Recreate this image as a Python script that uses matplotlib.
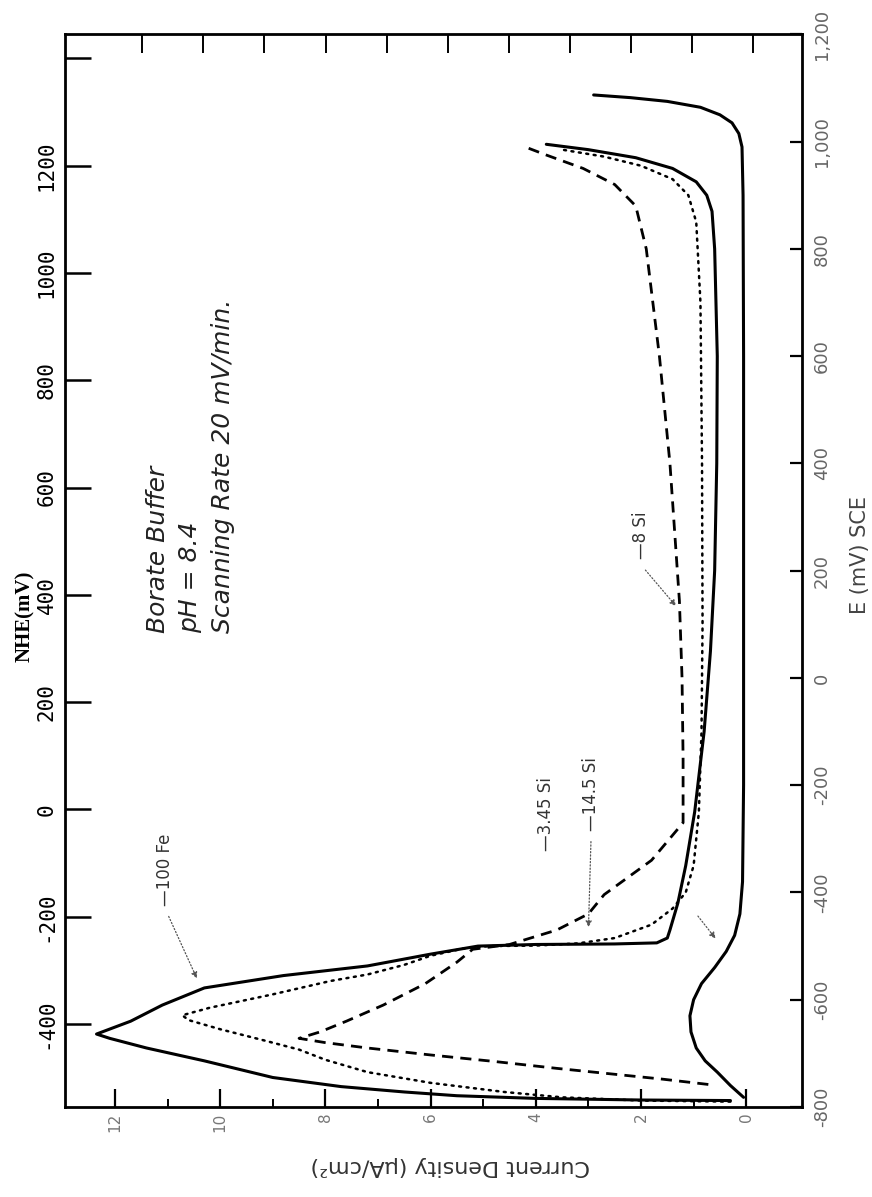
import numpy as np
import matplotlib.pyplot as plt

# potentials in mV vs SCE, current density in uA/cm2
fe_E = [-788, -787, -784, -779, -772, -762, -745, -714, -690, -672, -664, -640, -610, -578,
        -555, -537, -515, -500, -497, -496, -494, -485, -470, -420, -350, -250, -100, 50,
        200, 400, 600, 800, 870, 900, 925, 950, 970, 985, 995]
fe_i = [0.3, 2.0, 4.0, 5.5, 6.5, 7.7, 9.0, 10.3, 11.4, 12.1, 12.35, 11.7, 11.1, 10.3,
        8.8, 7.2, 6.0, 5.1, 4.0, 2.5, 1.7, 1.5, 1.45, 1.3, 1.15, 0.98, 0.8, 0.68,
        0.6, 0.56, 0.55, 0.6, 0.65, 0.75, 0.95, 1.4, 2.1, 3.0, 3.8]

si345_E = [-782, -760, -735, -714, -690, -660, -630, -600, -570, -540, -510, -480, -440,
           -380, -200, 200, 600, 900, 990, 1015, 1035, 1050, 1064, 1075, 1082, 1087]
si345_i = [0.05, 0.3, 0.55, 0.78, 0.95, 1.05, 1.07, 1.0, 0.85, 0.6, 0.38, 0.22, 0.12,
           0.07, 0.05, 0.05, 0.05, 0.06, 0.08, 0.14, 0.27, 0.5, 0.87, 1.5, 2.2, 2.9]

si145_E = [-790, -788, -782, -772, -755, -735, -712, -693, -675, -655, -638, -629, -615,
           -590, -565, -553, -535, -518, -505, -500, -499, -495, -485, -460, -430, -400,
           -350, -250, -100, 100, 400, 700, 850, 900, 930, 955, 972, 985]
si145_i = [0.3, 2.0, 3.5, 4.6, 6.0, 7.2, 8.0, 8.5, 9.2, 10.0, 10.6, 10.72, 10.2,
           9.0, 7.9, 7.2, 6.5, 6.0, 5.4, 4.9, 4.0, 3.2, 2.5, 1.8, 1.4, 1.15,
           1.0, 0.9, 0.85, 0.83, 0.84, 0.87, 0.95, 1.1, 1.4, 2.0, 2.7, 3.5]

si8_E = [-758, -748, -740, -728, -715, -703, -690, -680, -672, -660, -640, -610, -570,
         -530, -506, -497, -470, -440, -404, -340, -270, -150, 0, 144, 400, 600, 800,
         880, 920, 950, 975, 990]
si8_i = [0.72, 1.6, 2.4, 3.6, 4.8, 6.0, 7.2, 8.0, 8.5, 8.1, 7.6, 6.9, 6.1,
         5.5, 5.2, 4.5, 3.6, 3.0, 2.7, 1.8, 1.2, 1.2, 1.22, 1.27, 1.45, 1.65, 1.9,
         2.1, 2.5, 3.1, 3.8, 4.2]

cd_ticks = [0, 2, 4, 6, 8, 10, 12]
sce_ticks = [-800, -600, -400, -200, 0, 200, 400, 600, 800, 1000, 1200]
sce_labels = ['-800', '-600', '-400', '-200', '0', '200', '400', '600', '800', '1,000', '1,200']
nhe_ticks = [-400, -200, 0, 200, 400, 600, 800, 1000, 1200, 1400]
nhe_labels = ['-400', '-200', '0', '200', '400', '600', '800', '1000', '1200', '']
nhe_offset = 245  # NHE = SCE + 245

fig = plt.figure(figsize=(8.72, 11.97), dpi=100)
ax = fig.add_axes([0.0745, 0.0752, 0.8452, 0.8961])

lw = 2.2
ax.plot(fe_i, fe_E, color='black', lw=lw, solid_capstyle='round')
ax.plot(si345_i, si345_E, color='black', lw=lw, solid_capstyle='round')
ax.plot(si145_i, si145_E, color='black', lw=1.8, linestyle=(0, (0.8, 2.2)),
        dash_capstyle='round')
ax.plot(si8_i, si8_E, color='black', lw=2.0, linestyle=(0, (4, 2.6)))

ax.set_xlim(12.95, -1.06)
ax.set_ylim(-800, 1200)

for s in ax.spines.values():
    s.set_linewidth(2.0)

# current density axis (bottom)
ax.set_xticks(cd_ticks)
ax.set_xticklabels([str(v) for v in cd_ticks])
ax.set_xticks([1, 3, 5, 7, 9, 11], minor=True)
ax.tick_params(axis='x', which='major', direction='in', length=13, width=1.6,
               labelrotation=90, labelsize=11, labelcolor='#777', pad=4)
ax.tick_params(axis='x', which='minor', direction='in', length=6, width=1.4)

# top ticks, no labels
top = ax.secondary_xaxis('top')
top.set_xticks(np.linspace(-0.13, 11.48, 11))
top.tick_params(direction='in', length=14, width=1.4, labeltop=False)
top.set_xticklabels([])

# NHE axis (left)
ax.set_yticks([v - nhe_offset for v in nhe_ticks])
ax.set_yticklabels(nhe_labels, family='DejaVu Sans Mono')
ax.tick_params(axis='y', direction='in', length=19, width=1.8, labelrotation=90,
               labelsize=15, pad=6)
for lbl in ax.get_yticklabels():
    lbl.set_va('center')

# SCE axis (right)
sce = ax.secondary_yaxis('right')
sce.set_yticks(sce_ticks)
sce.set_yticklabels(sce_labels)
sce.tick_params(direction='in', length=9, width=1.6, labelrotation=90, labelsize=13,
                labelcolor='#666', pad=8)
for lbl in sce.get_yticklabels():
    lbl.set_va('center')

fig.text(25 / 872, 1 - 616 / 1197, 'NHE(mV)', rotation=90, ha='center', va='center',
         family='Liberation Serif', fontsize=15, weight='bold')
fig.text(860 / 872, 1 - 555 / 1197, 'E (mV) SCE', rotation=90, ha='center', va='center',
         fontsize=15, color='#444')
fig.text(450 / 872, 1 - 1166 / 1197, 'Current Density (μA/cm²)', rotation=180,
         ha='center', va='center', fontsize=16, color='#333')

# experimental conditions
for xi, txt in [(11.18, 'Borate Buffer'), (10.57, 'pH = 8.4'), (9.94, 'Scanning Rate 20 mV/min.')]:
    ax.text(xi, 84, txt, rotation=90, rotation_mode='anchor', ha='left', va='center',
            fontsize=18, style='italic', color='#222')

# curve labels
lab_kw = dict(rotation=90, rotation_mode='anchor', ha='left', va='center',
              fontsize=12, color='#333')
ax.text(11.05, -425, '—100 Fe', **lab_kw)
ax.text(3.8, -323, '—3.45 Si', **lab_kw)
ax.text(2.95, -285, '—14.5 Si', **lab_kw)
ax.text(2.0, 222, '—8 Si', **lab_kw)

arrow = dict(arrowstyle='-|>', linestyle=':', lw=0.9, color='#555', mutation_scale=9)
ax.annotate('', xy=(10.42, -565), xytext=(11.0, -440), arrowprops=arrow)
ax.annotate('', xy=(3.0, -470), xytext=(2.95, -300), arrowprops=arrow)
ax.annotate('', xy=(1.3, 130), xytext=(1.95, 205), arrowprops=arrow)
ax.annotate('', xy=(0.55, -490), xytext=(0.95, -440), arrowprops=arrow)

fig.savefig('out.png', dpi=100)
